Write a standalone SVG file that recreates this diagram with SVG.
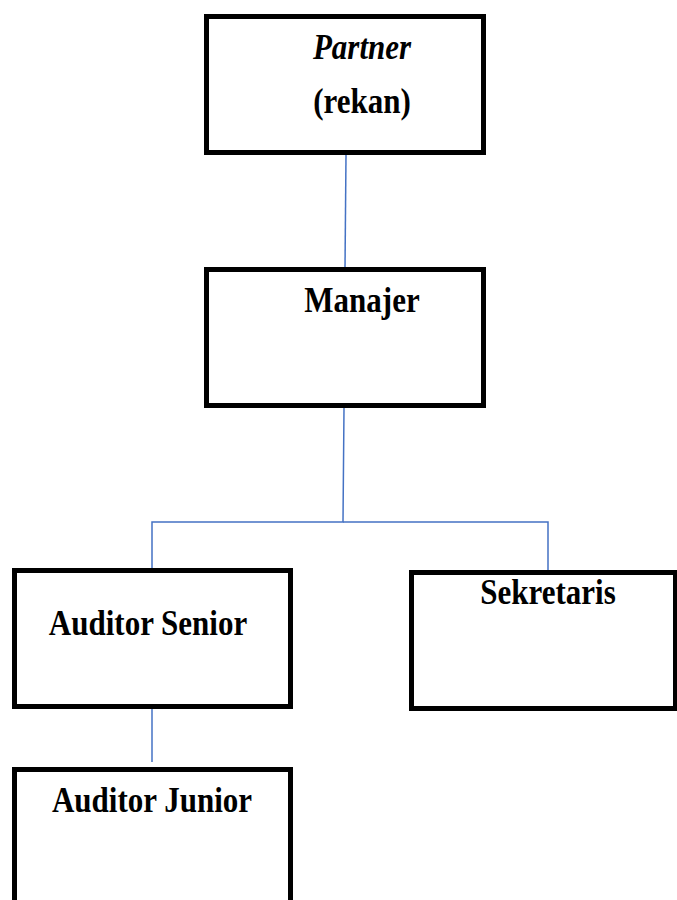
<svg xmlns="http://www.w3.org/2000/svg" width="677" height="900" viewBox="0 0 677 900">
<style>
.box{fill:#fff;stroke:#000;stroke-width:5}
.t{font-family:"Liberation Serif","Times New Roman",serif;font-weight:bold;font-size:31px;fill:#000;text-anchor:middle}
.c{stroke:#4472C4;stroke-width:1.5;fill:none}
</style>
<rect width="677" height="900" fill="#fff"/>
<g id="connectors">
<line class="c" x1="346" y1="155" x2="345" y2="268"/>
<polyline class="c" points="344,408 343,522 152,522 152,569"/>
<polyline class="c" points="343,522 548,522 548,571"/>
<line class="c" x1="152" y1="708" x2="152" y2="762"/>
</g>
<g id="partner">
<rect class="box" x="206.5" y="16.5" width="277" height="136"/>
<text class="t" transform="translate(362,59) scale(1,1.13)" font-style="italic">Partner</text>
<text class="t" transform="translate(362,113) scale(1,1.13)">(rekan)</text>
</g>
<g id="manajer">
<rect class="box" x="206.5" y="269.5" width="277" height="136"/>
<text class="t" transform="translate(362,312) scale(1,1.13)">Manajer</text>
</g>
<g id="auditor-senior">
<rect class="box" x="14.5" y="570.5" width="276" height="136"/>
<text class="t" transform="translate(148,635) scale(1,1.13)">Auditor Senior</text>
</g>
<g id="sekretaris">
<rect class="box" x="411.5" y="572.5" width="264" height="136"/>
<text class="t" transform="translate(548,604) scale(1,1.13)">Sekretaris</text>
</g>
<g id="auditor-junior">
<rect class="box" x="14.5" y="769.5" width="276" height="140"/>
<text class="t" transform="translate(152,812) scale(1,1.13)">Auditor Junior</text>
</g>
</svg>
